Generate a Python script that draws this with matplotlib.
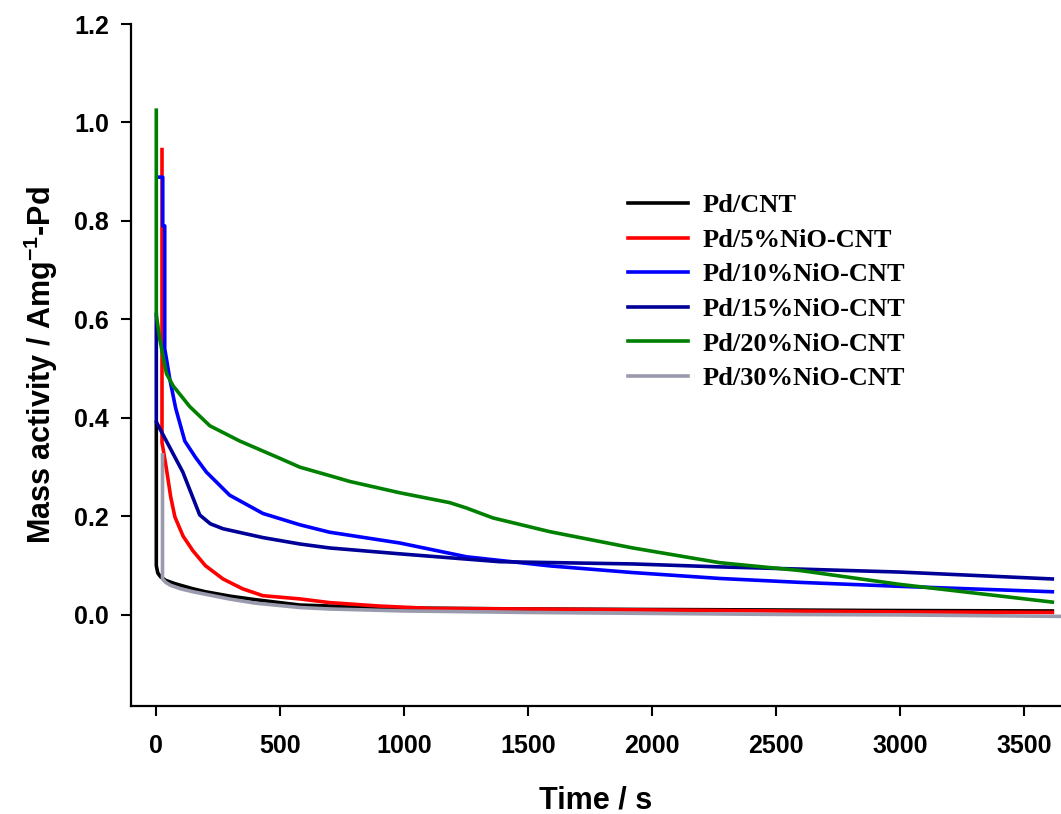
import matplotlib
matplotlib.use("Agg")
import matplotlib.pyplot as plt

# time (s) and mass activity (A mg^-1 Pd)
t_cnt = [2, 2, 8, 20, 40, 80, 150, 200, 300, 400, 581, 700, 1000, 1500, 2000, 2500, 2900, 3615]
y_cnt = [0.39, 0.10, 0.085, 0.077, 0.07, 0.063, 0.053, 0.047, 0.038, 0.031, 0.020, 0.018, 0.014, 0.012, 0.011, 0.010, 0.009, 0.008]

t_5 = [25, 25, 32, 43, 60, 77, 110, 150, 200, 271, 350, 432, 581, 700, 900, 1117, 1500, 2000, 2500, 3000, 3615]
y_5 = [0.945, 0.35, 0.33, 0.296, 0.24, 0.199, 0.16, 0.13, 0.10, 0.073, 0.053, 0.039, 0.0325, 0.025, 0.018, 0.013, 0.012, 0.010, 0.008, 0.006, 0.005]

t_10 = [8, 28, 28, 36, 36, 43, 56, 80, 117, 160, 204, 298, 432, 581, 700, 984, 1253, 1589, 1923, 2274, 2600, 3000, 3615]
y_10 = [0.889, 0.889, 0.79, 0.79, 0.54, 0.52, 0.48, 0.42, 0.353, 0.32, 0.29, 0.243, 0.206, 0.183, 0.168, 0.146, 0.118, 0.0995, 0.086, 0.074, 0.066, 0.058, 0.047]

t_15 = [2, 2, 28, 109, 177, 220, 271, 432, 581, 700, 984, 1387, 1923, 2274, 2600, 3000, 3615]
y_15 = [0.61, 0.392, 0.367, 0.29, 0.203, 0.185, 0.175, 0.157, 0.144, 0.136, 0.124, 0.108, 0.1035, 0.0975, 0.093, 0.087, 0.073]

t_20 = [2, 2, 16, 43, 70, 137, 218, 339, 500, 581, 700, 782, 984, 1185, 1253, 1359, 1589, 1923, 2274, 2600, 3000, 3615]
y_20 = [1.025, 0.61, 0.56, 0.49, 0.465, 0.423, 0.384, 0.353, 0.318, 0.30, 0.283, 0.271, 0.248, 0.228, 0.217, 0.197, 0.169, 0.136, 0.106, 0.09, 0.062, 0.026]

t_30 = [27, 27, 40, 60, 100, 150, 200, 300, 400, 581, 700, 1000, 1500, 2000, 2500, 3000, 3650]
y_30 = [0.325, 0.073, 0.066, 0.06, 0.053, 0.047, 0.042, 0.032, 0.024, 0.015, 0.012, 0.008, 0.005, 0.003, 0.001, 0.0, -0.003]

labels = ['Pd/CNT', 'Pd/5%NiO-CNT', 'Pd/10%NiO-CNT', 'Pd/15%NiO-CNT', 'Pd/20%NiO-CNT', 'Pd/30%NiO-CNT']
colors = ['black', '#ff0000', '#0000ff', '#000099', '#008000', '#9a9aae']
series = [(t_cnt, y_cnt), (t_5, y_5), (t_10, y_10), (t_15, y_15), (t_20, y_20), (t_30, y_30)]

plt.rcParams['mathtext.fontset'] = 'custom'
plt.rcParams['mathtext.bf'] = 'Liberation Sans:bold'
plt.rcParams['mathtext.rm'] = 'Liberation Sans:bold'

fig = plt.figure(figsize=(10.61, 8.14), dpi=100)
ax = fig.add_axes([131 / 1061, 108 / 814, 1 - 131 / 1061, (706 - 24) / 814])

for (t, y), c, lab in zip(series, colors, labels):
    ax.plot(t, y, color=c, lw=2.6, label=lab)

ax.set_xlim(-100, 3650)
ax.set_ylim(-0.185, 1.2)
ax.set_xticks([0, 500, 1000, 1500, 2000, 2500, 3000, 3500])
ax.set_yticks([0.0, 0.2, 0.4, 0.6, 0.8, 1.0, 1.2])
ax.set_yticklabels(['0.0', '0.2', '0.4', '0.6', '0.8', '1.0', '1.2'])

ax.spines['top'].set_visible(False)
ax.spines['right'].set_visible(False)
ax.spines['left'].set_linewidth(1.6)
ax.spines['bottom'].set_linewidth(1.6)
ax.tick_params(axis='both', direction='out', length=7, width=1.5)
ax.tick_params(axis='y', pad=9)
ax.tick_params(axis='x', pad=13)
for lbl in ax.get_xticklabels() + ax.get_yticklabels():
    lbl.set_fontfamily('Liberation Sans')
    lbl.set_fontweight('bold')
    lbl.set_fontsize(18)

ax.set_xlabel('Time / s', fontfamily='Liberation Sans', fontweight='bold', fontsize=22, labelpad=20)
ax.set_ylabel('Mass activity / Amg$^{\\mathbf{-1}}$-Pd', fontfamily='Liberation Sans', fontweight='bold',
              fontsize=22, labelpad=10)

leg = ax.legend(loc='upper left', bbox_to_anchor=(0.534, 0.751), frameon=False,
                prop={'family': 'Liberation Serif', 'weight': 'bold', 'size': 19},
                handlelength=2.3, handletextpad=0.55, labelspacing=0.42, borderpad=0, borderaxespad=0)

fig.savefig('out.png', dpi=100)
